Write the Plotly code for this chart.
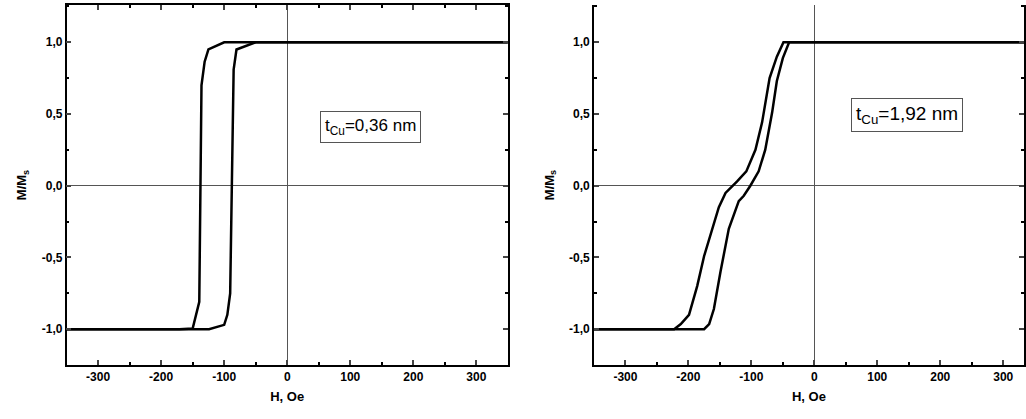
import plotly.graph_objects as go

# t_Cu = 0.36 nm loop
h1_down = [350, -100, -125, -131, -136, -139.5, -150, -171, -350]
m1_down = [1.0, 1.0, 0.95, 0.865, 0.70, -0.81, -0.995, -1.0, -1.0]
h1_up = [-350, -124, -100, -95, -90.5, -85, -80.5, -50, 350]
m1_up = [-1.0, -1.0, -0.97, -0.90, -0.75, 0.81, 0.95, 1.0, 1.0]

# t_Cu = 1.92 nm loop
h2_down = [350, -49, -59.5, -71, -83, -93.5, -108, -122.6, -141, -151.6, -175, -186, -199, -212, -222.6, -350]
m2_down = [1.0, 1.0, 0.90, 0.75, 0.44, 0.25, 0.10, 0.03, -0.05, -0.15, -0.49, -0.70, -0.90, -0.965, -1.0, -1.0]
h2_up = [-350, -175, -167, -159.5, -149, -135.8, -120, -112, -101.6, -88.4, -78, -67, -59.5, -50, -40, 350]
m2_up = [-1.0, -1.0, -0.965, -0.86, -0.6, -0.30, -0.107, -0.07, 0.0, 0.10, 0.25, 0.51, 0.73, 0.89, 1.0, 1.0]

x_ticks = [-300, -200, -100, 0, 100, 200, 300]
x_labels = ["-300", "-200", "-100", "0", "100", "200", "300"]
y_ticks = [-1.0, -0.5, 0.0, 0.5, 1.0]
y_labels = ["-1,0", "-0,5", "0,0", "0,5", "1,0"]

TICKFONT = dict(family="Liberation Sans, Arial", size=12, color="black", weight="bold")
TITLEFONT = dict(family="Liberation Sans, Arial", size=13, color="black", weight="bold")

fig = go.Figure()
line = dict(color="black", width=2.5)
for h, m, ax in [(h1_down, m1_down, ""), (h1_up, m1_up, ""),
                 (h2_down, m2_down, "2"), (h2_up, m2_up, "2")]:
    fig.add_trace(go.Scatter(x=h, y=m, mode="lines", line=line,
                             xaxis="x" + ax, yaxis="y" + ax, showlegend=False))

def xax(domain, rng, mirror):
    return dict(domain=domain, range=rng, tickvals=x_ticks, ticktext=x_labels,
                ticks="inside", ticklen=5, tickwidth=1.5, mirror=mirror,
                showline=True, linecolor="black", linewidth=1.5, showgrid=False,
                zeroline=True, zerolinecolor="#555", zerolinewidth=1,
                minor=dict(dtick=50, ticks="inside", ticklen=3, tickcolor="black"),
                tickfont=TICKFONT, title=dict(text="H, Oe", font=TITLEFONT, standoff=9))

def yax(anchor):
    return dict(anchor=anchor, domain=[0, 1], range=[-1.25, 1.26],
                tickvals=y_ticks, ticktext=y_labels, ticks="inside", ticklen=5,
                tickwidth=1.5, mirror="ticks", showline=True, linecolor="black",
                linewidth=1.5, showgrid=False, zeroline=True, zerolinecolor="#555",
                zerolinewidth=1,
                minor=dict(dtick=0.25, ticks="inside", ticklen=3, tickcolor="black"),
                tickfont=TICKFONT,
                title=dict(text="M/M<sub>s</sub>", font=TITLEFONT, standoff=12))

fig.update_layout(
    width=1026, height=419, paper_bgcolor="white", plot_bgcolor="white",
    margin=dict(l=0, r=0, t=5, b=54),
    xaxis=xax([0.065, 0.496], [-350, 350], "ticks"),
    yaxis=yax("x"),
    xaxis2=xax([0.580, 1.0], [-350, 333], False),
    yaxis2=yax("x2"),
    annotations=[
        dict(x=132, y=0.41, xref="x", yref="y", showarrow=False,
             text="t<sub>Cu</sub>=0,36 nm", bordercolor="#555", borderwidth=1,
             borderpad=4, bgcolor="white",
             font=dict(family="Liberation Sans, Arial", size=17, color="black")),
        dict(x=147, y=0.49, xref="x2", yref="y2", showarrow=False,
             text="t<sub>Cu</sub>=1,92 nm", bordercolor="#555", borderwidth=1,
             borderpad=4, bgcolor="white",
             font=dict(family="Liberation Sans, Arial", size=19, color="black")),
    ],
)
fig.write_html("out.html", config={"displayModeBar": False},
               post_script="document.body.style.margin='0';")
